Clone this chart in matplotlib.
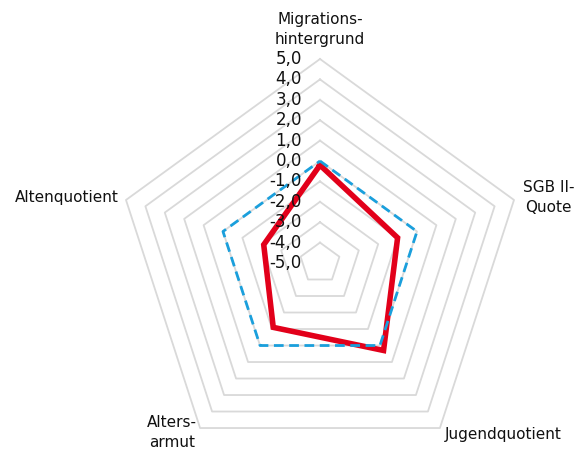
import numpy as np
import matplotlib.pyplot as plt

# Indikatoren (Achsen im Uhrzeigersinn, oben beginnend)
kategorien = ["Migrations-\nhintergrund", "SGB II-\nQuote", "Jugendquotient",
              "Alters-\narmut", "Altenquotient"]
gebiet = [-0.2, -1.0, 0.3, -1.1, -2.1]
referenz = [0.0, 0.0, 0.0, 0.0, 0.0]
stufen = [5, 4, 3, 2, 1, 0, -1, -2, -3, -4, -5]

n = len(kategorien)
winkel = np.linspace(0, 2 * np.pi, n, endpoint=False)
winkel_zu = np.append(winkel, winkel[0])

fig = plt.figure(figsize=(5.85, 4.5), dpi=100)
ax = fig.add_axes([0.1983, -0.0378, 0.6974, 0.9067], projection="polar")
ax.set_theta_offset(np.pi / 2)
ax.set_theta_direction(-1)
ax.set_ylim(-5, 5)
ax.axis("off")

# Fuenfeckige Gitterlinien statt Kreise
for s in stufen:
    if s == -5:
        continue
    ax.plot(winkel_zu, [s] * (n + 1), color="#d9d9d9", lw=1.3, zorder=1,
            clip_on=False)

for s in stufen:
    ax.annotate(f"{s:.1f}".replace(".", ","), xy=(0, s), xytext=(-13, 0),
                textcoords="offset points", ha="right", va="center",
                fontsize=12, color="#111111", zorder=5)

ax.plot(winkel_zu, gebiet + gebiet[:1], color="#e2001a", lw=4.0, zorder=3,
        solid_joinstyle="miter", clip_on=False)
ax.plot(winkel_zu, referenz + referenz[:1], color="#1a9fdc", lw=2.0,
        ls=(0, (3.5, 2)), zorder=4, clip_on=False)

# Achsenbeschriftungen
pos = [(5.6, "center", "bottom"), (5.45, "left", "center"),
       (5.4, "left", "center"), (5.25, "right", "center"),
       (5.35, "right", "center")]
for w, txt, (r, ha, va) in zip(winkel, kategorien, pos):
    ax.text(w, r, txt, ha=ha, va=va, fontsize=11, color="#111111",
            multialignment="center", linespacing=1.4)

fig.savefig("out.png", dpi=100)
